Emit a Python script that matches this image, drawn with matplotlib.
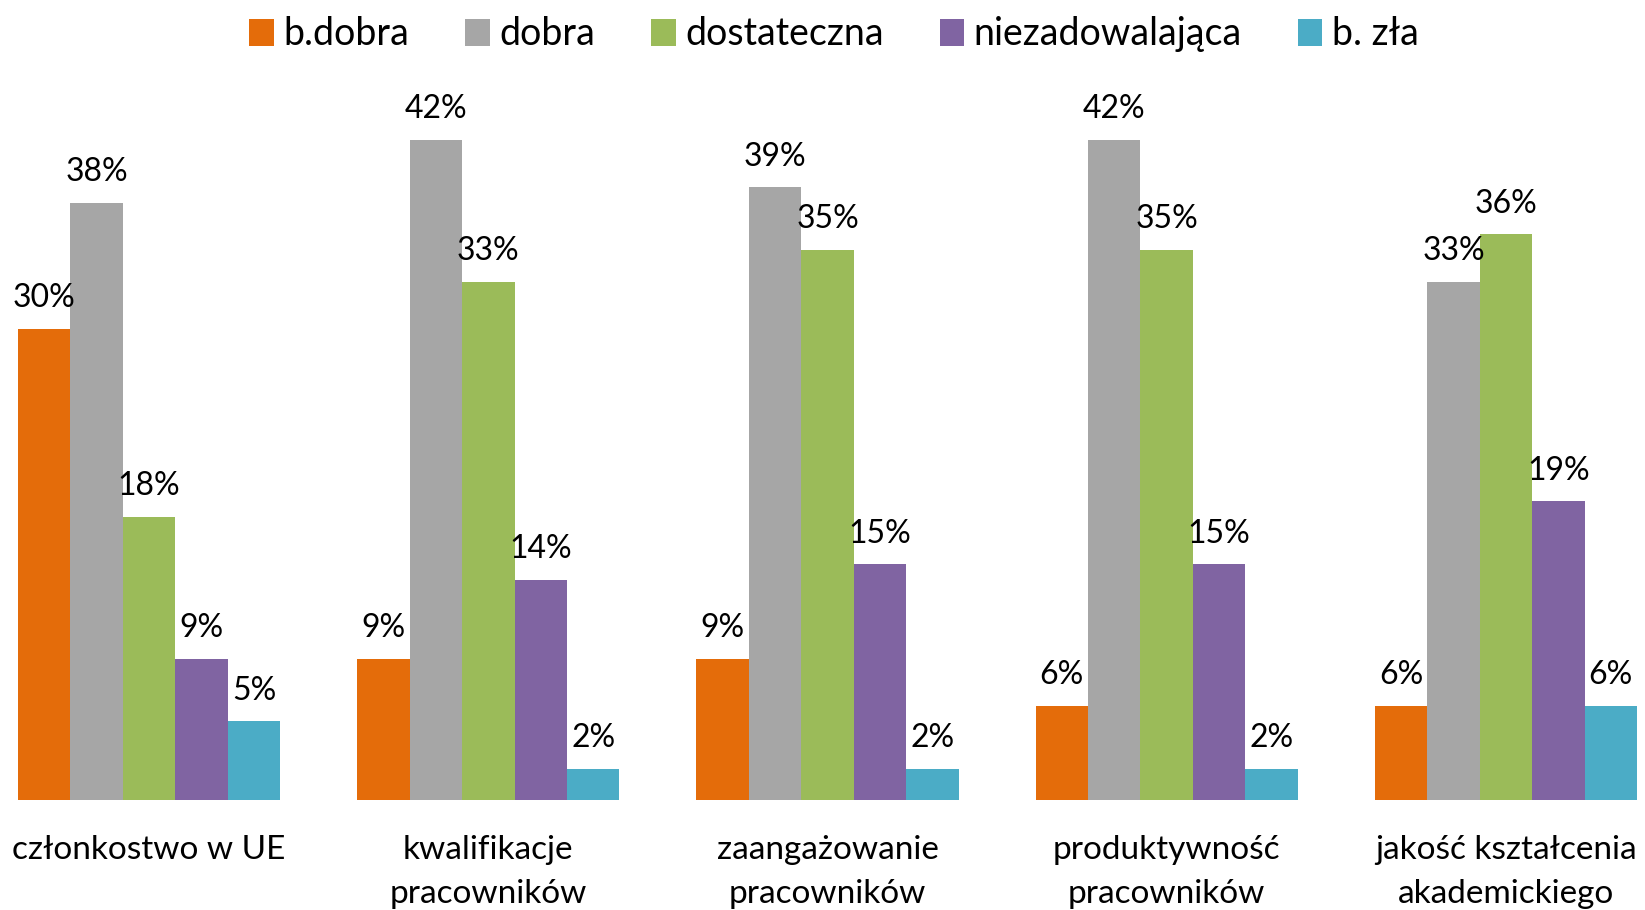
import matplotlib
matplotlib.use("Agg")
import matplotlib.pyplot as plt
import numpy as np

plt.rcParams['font.family'] = ['Lato', 'DejaVu Sans']

categories = ['członkostwo w UE', 'kwalifikacje\npracowników', 'zaangażowanie\npracowników',
              'produktywność\npracowników', 'jakość kształcenia\nakademickiego']
series_names = ['b.dobra', 'dobra', 'dostateczna', 'niezadowalająca', 'b. zła']
b_dobra = [30, 9, 9, 6, 6]
dobra = [38, 42, 39, 42, 33]
dostateczna = [18, 33, 35, 35, 36]
niezadowalajaca = [9, 14, 15, 15, 19]
b_zla = [5, 2, 2, 2, 6]
colors = ['#E46C0A', '#A6A6A6', '#9BBB59', '#8064A2', '#4BACC6']

values = [b_dobra, dobra, dostateczna, niezadowalajaca, b_zla]

fig = plt.figure(figsize=(16.45, 9.1), dpi=100)
ax = fig.add_axes([18 / 1645, 110 / 910, (1637 - 18) / 1645, (800 - 93) / 910])

x = np.arange(len(categories))
w = 0.1546
for i, (name, vals, c) in enumerate(zip(series_names, values, colors)):
    pos = x + (i - 2) * w
    bars = ax.bar(pos, vals, width=w, color=c, label=name, linewidth=0)
    for xp, v in zip(pos, vals):
        ax.text(xp, v + 1.0, f"{v}%", ha='center', va='bottom', fontsize=23, color='black')

ax.set_xlim(-0.3865, 4.3865)
ax.set_ylim(0, 45)
ax.set_yticks([])
ax.set_xticks(x)
ax.set_xticklabels(categories, fontsize=24, linespacing=1.6, va='top')
ax.tick_params(axis='x', length=0, pad=25)
for s in ax.spines.values():
    s.set_visible(False)

fig.legend(loc='upper center', ncol=5, frameon=False, fontsize=27,
           bbox_to_anchor=(0.507, 1.019), handlelength=0.65, handleheight=0.75,
           handletextpad=0.25, columnspacing=1.5)

fig.savefig('out.png', dpi=100, facecolor='white')
